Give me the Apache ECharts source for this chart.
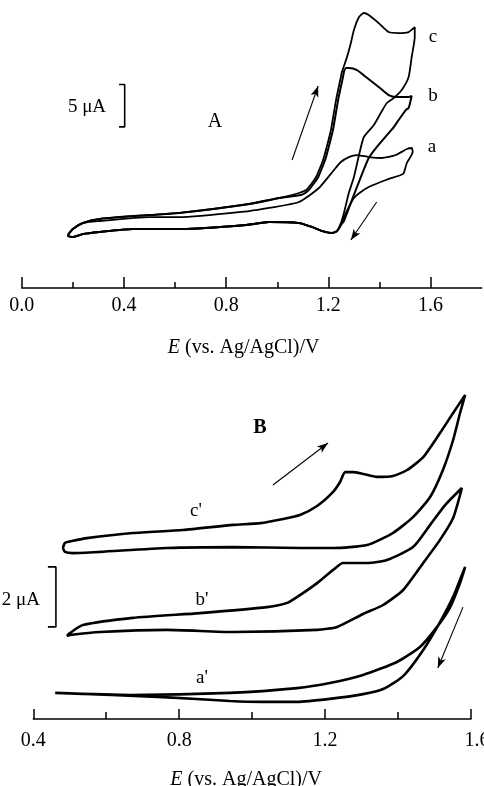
<!DOCTYPE html>
<html>
<head>
<meta charset="utf-8">
<title>CV A / B</title>
<script src="https://cdn.jsdelivr.net/npm/echarts@6.0.0/dist/echarts.min.js"></script>
<style>
  html, body { margin: 0; padding: 0; background: #fff; }
  #chart { width: 484px; height: 786px; }
</style>
</head>
<body>
<div id="chart"></div>
<script>
// ---- panel A : potential (V) vs current (uA), full loops forward + reverse
var cvA_a = [
  [0.181,6.26],[0.200,6.97],[0.239,7.68],[0.305,7.92],[0.500,8.39],[0.617,8.39],[0.890,9.10],[0.968,9.46],
  [1.085,10.17],[1.163,11.82],[1.222,13.95],[1.249,14.89],[1.280,15.48],[1.312,15.72],[1.358,15.48],
  [1.409,15.37],[1.464,15.72],[1.507,16.43],[1.526,16.55],
  [1.530,16.08],[1.507,14.78],[1.495,13.59],[1.483,13.36],[1.425,12.77],[1.358,11.94],[1.327,11.35],
  [1.300,10.64],[1.280,9.57],[1.261,8.39],[1.249,7.45],[1.234,6.74],[1.214,6.50],[1.175,6.74],[1.136,7.21],
  [1.085,7.68],[0.968,7.80],[0.879,7.45],[0.629,6.97],[0.434,6.97],[0.305,6.62],[0.239,6.38],[0.200,6.03],
  [0.181,6.15],[0.181,6.26]
];
var cvA_b = [
  [0.181,6.26],[0.200,6.97],[0.239,7.68],[0.305,8.16],[0.500,8.63],[0.617,8.87],[0.890,9.93],[1.007,10.64],
  [1.093,11.00],[1.121,11.50],[1.144,12.40],[1.160,13.10],[1.183,14.80],[1.191,15.50],[1.218,18.70],
  [1.238,22.20],[1.257,24.90],[1.261,25.53],[1.269,26.00],[1.280,26.00],[1.312,25.77],[1.347,24.94],
  [1.397,23.76],[1.436,22.81],[1.464,22.58],[1.514,22.58],[1.526,22.70],
  [1.514,21.28],[1.503,21.04],[1.475,19.86],[1.456,19.03],[1.436,18.32],[1.386,16.55],[1.358,15.37],
  [1.327,13.12],[1.292,10.40],[1.261,7.92],[1.249,7.45],[1.234,6.74],[1.214,6.50],[1.175,6.74],[1.136,7.21],
  [1.085,7.68],[0.968,7.80],[0.879,7.45],[0.629,6.97],[0.434,6.97],[0.305,6.62],[0.239,6.38],[0.200,6.03],
  [0.181,6.15],[0.181,6.26]
];
var cvA_c = [
  [0.181,6.26],[0.200,6.97],[0.239,7.68],[0.305,8.16],[0.500,8.63],[0.617,8.87],[0.890,9.93],[1.007,10.64],
  [1.085,11.23],[1.113,11.58],[1.136,12.41],[1.152,13.12],[1.175,14.78],[1.183,15.48],[1.210,18.68],
  [1.230,22.22],[1.249,24.94],[1.253,25.53],[1.273,27.30],[1.288,28.96],[1.300,30.50],[1.320,32.03],
  [1.339,32.51],[1.358,32.27],[1.397,31.32],[1.436,30.26],[1.475,30.14],[1.514,30.26],[1.534,30.73],
  [1.538,30.85],
  [1.538,29.67],[1.526,27.30],[1.514,24.94],[1.487,23.40],[1.456,22.46],[1.429,21.87],[1.405,20.68],
  [1.378,19.27],[1.339,17.85],[1.320,15.72],[1.300,13.12],[1.280,11.23],[1.261,8.87],[1.249,7.68],
  [1.234,6.74],[1.214,6.50],[1.175,6.74],[1.136,7.21],[1.085,7.68],[0.968,7.80],[0.879,7.45],[0.629,6.97],
  [0.434,6.97],[0.305,6.62],[0.239,6.38],[0.200,6.03],[0.181,6.15],[0.181,6.26]
];

// ---- panel B
var cvB_a = [
  [0.460,0.87],[0.665,0.80],[0.939,0.87],[1.123,1.03],[1.213,1.20],[1.304,1.47],[1.397,1.90],[1.460,2.40],
  [1.507,3.07],[1.543,3.73],[1.570,4.53],[1.584,5.07],
  [1.575,4.80],[1.551,4.07],[1.515,3.23],[1.469,2.30],[1.414,1.43],[1.359,1.00],[1.304,0.83],[1.213,0.67],
  [1.123,0.57],[1.030,0.57],[0.939,0.60],[0.756,0.73],[0.460,0.87]
];
var cvB_b = [
  [0.492,2.77],[0.501,2.87],[0.536,3.13],[0.673,3.37],[0.857,3.53],[1.041,3.73],[1.096,3.87],[1.131,4.13],
  [1.178,4.53],[1.222,4.97],[1.249,5.20],[1.315,5.20],[1.370,5.30],[1.441,5.73],[1.488,6.47],[1.529,7.13],
  [1.575,7.70],
  [1.551,6.70],[1.515,5.97],[1.469,5.20],[1.414,4.30],[1.359,3.80],[1.304,3.50],[1.233,3.07],[1.178,2.97],
  [0.948,2.90],[0.767,2.97],[0.583,2.90],[0.501,2.80],[0.492,2.77]
];
var cvB_c = [
  [0.481,5.70],[0.487,5.87],[0.506,5.93],[0.547,6.03],[0.673,6.20],[0.810,6.30],[0.948,6.47],[1.022,6.53],
  [1.085,6.67],[1.131,6.80],[1.178,7.10],[1.222,7.57],[1.241,7.90],[1.255,8.23],[1.277,8.23],[1.304,8.17],
  [1.342,8.07],[1.386,8.10],[1.425,8.30],[1.469,8.73],[1.515,9.53],[1.551,10.20],[1.584,10.80],
  [1.570,10.20],[1.551,9.30],[1.523,8.30],[1.488,7.40],[1.441,6.73],[1.386,6.20],[1.315,5.80],[1.222,5.70],
  [1.131,5.70],[0.948,5.73],[0.767,5.70],[0.583,5.57],[0.509,5.53],[0.487,5.57],[0.481,5.70]
];

// scale bars (uA) and scan direction arrows
var scaleBarA = [[0.381,24.05],[0.403,24.05],[0.403,19.05],[0.381,19.05]];
var scaleBarB = [[0.440,5.07],[0.462,5.07],[0.462,3.07],[0.440,3.07]];
var arrowsA = [[[1.058,15.13],[1.160,23.88]], [[1.389,10.17],[1.288,5.67]]];
var arrowsB = [[[1.057,7.80],[1.208,9.20]], [[1.578,3.73],[1.509,1.70]]];

// ticks
var ticksMajorA = [0, 0.4, 0.8, 1.2, 1.6];
var ticksMinorA = [0.2, 0.6, 1.0, 1.4];

var serif = "'Liberation Serif', 'Times New Roman', serif";
var chart = echarts.init(document.getElementById('chart'));

function cvSeries(data, xi, yi, w) {
  return {
    type: 'line', xAxisIndex: xi, yAxisIndex: yi, data: data,
    showSymbol: false, symbol: 'none', smooth: 0.2, silent: true,
    lineStyle: { color: '#000', width: w }
  };
}
function arrowLines(list) {
  return list.map(function (a) { return [{ coord: a[0] }, { coord: a[1] }]; });
}
function barSeries(data, xi, yi, arrows) {
  return {
    type: 'line', xAxisIndex: xi, yAxisIndex: yi, data: data,
    showSymbol: false, symbol: 'none', silent: true,
    lineStyle: { color: '#000', width: 1.6 },
    markLine: {
      silent: true, symbol: ['none', 'arrow'], symbolSize: [6, 11],
      label: { show: false },
      lineStyle: { color: '#000', width: 1.1, type: 'solid' },
      data: arrowLines(arrows)
    }
  };
}
var nameStyle = {
  color: '#000', fontFamily: serif, fontSize: 20,
  rich: { i: { fontFamily: serif, fontSize: 20, fontStyle: 'italic', color: '#000' } }
};
function txt(x, y, s, size, extra) {
  var st = { text: s, fill: '#000', fontFamily: serif, fontSize: size, align: 'center', verticalAlign: 'middle' };
  for (var k in (extra || {})) st[k] = extra[k];
  return { type: 'text', x: x, y: y, style: st, silent: true };
}

var option = {
  animation: false,
  backgroundColor: '#fff',
  grid: [
    { left: 21.7, right: 2.3, top: 0.4, bottom: 498, outerBoundsMode: 'none' },
    { left: 33.3, right: 13, top: 389, bottom: 67, outerBoundsMode: 'none' }
  ],
  xAxis: [
    {
      gridIndex: 0, type: 'value', min: 0, max: 1.8,
      axisLine: { onZero: false, lineStyle: { color: '#000', width: 1.5 } },
      axisTick: { inside: true, length: 11, customValues: ticksMajorA, lineStyle: { color: '#000', width: 1.5 } },
      axisLabel: { customValues: ticksMajorA, margin: 8, color: '#000', fontFamily: serif, fontSize: 20,
        formatter: function (v) { return v.toFixed(1); } },
      splitLine: { show: false },
      name: '{i|E} (vs. Ag/AgCl)/V', nameLocation: 'middle', nameGap: 50,
      nameTextStyle: Object.assign({ padding: [0, 16, 0, 0] }, nameStyle)
    },
    {
      gridIndex: 0, type: 'value', min: 0, max: 1.8, position: 'bottom',
      axisLine: { show: false, onZero: false },
      axisTick: { inside: true, length: 6, customValues: ticksMinorA, lineStyle: { color: '#000', width: 1.5 } },
      axisLabel: { show: false }, splitLine: { show: false }
    },
    {
      gridIndex: 1, type: 'value', min: 0.4, max: 1.6, interval: 0.4,
      axisLine: { onZero: false, lineStyle: { color: '#000', width: 1.5 } },
      axisTick: { inside: true, length: 10, lineStyle: { color: '#000', width: 1.5 } },
      minorTick: { show: true, splitNumber: 2, length: 7, lineStyle: { color: '#000', width: 1.5 } },
      axisLabel: { margin: 12, color: '#000', fontFamily: serif, fontSize: 20,
        formatter: function (v) { return v >= 1.6 ? '{m|' + v.toFixed(1) + '}' : v.toFixed(1); },
        rich: { m: { fontFamily: serif, fontSize: 20, color: '#000', padding: [0, 0, 0, 12] } } },
      splitLine: { show: false },
      name: '{i|E} (vs. Ag/AgCl)/V', nameLocation: 'middle', nameGap: 51,
      nameTextStyle: Object.assign({ padding: [0, 12, 0, 0] }, nameStyle)
    }
  ],
  yAxis: [
    { gridIndex: 0, type: 'value', min: 0, max: 34, show: false },
    { gridIndex: 1, type: 'value', min: 0, max: 11, show: false }
  ],
  series: [
    cvSeries(cvA_a, 0, 0, 1.8),
    cvSeries(cvA_b, 0, 0, 2.0),
    cvSeries(cvA_c, 0, 0, 1.8),
    barSeries(scaleBarA, 0, 0, arrowsA),
    cvSeries(cvB_a, 2, 1, 2.6),
    cvSeries(cvB_b, 2, 1, 2.6),
    cvSeries(cvB_c, 2, 1, 2.6),
    barSeries(scaleBarB, 2, 1, arrowsB)
  ],
  graphic: [
    txt(87, 107, '5 μA', 19),
    txt(215, 122, 'A', 20),
    txt(433, 37, 'c', 19),
    txt(433, 96, 'b', 19),
    txt(432, 147, 'a', 19),
    txt(260, 428, 'B', 20, { fontWeight: 'bold' }),
    txt(196, 511, "c'", 19),
    txt(202, 600, "b'", 19),
    txt(202, 678, "a'", 19),
    txt(40, 600, '2 μA', 19, { align: 'right' })
  ]
};
chart.setOption(option);
</script>
</body>
</html>
